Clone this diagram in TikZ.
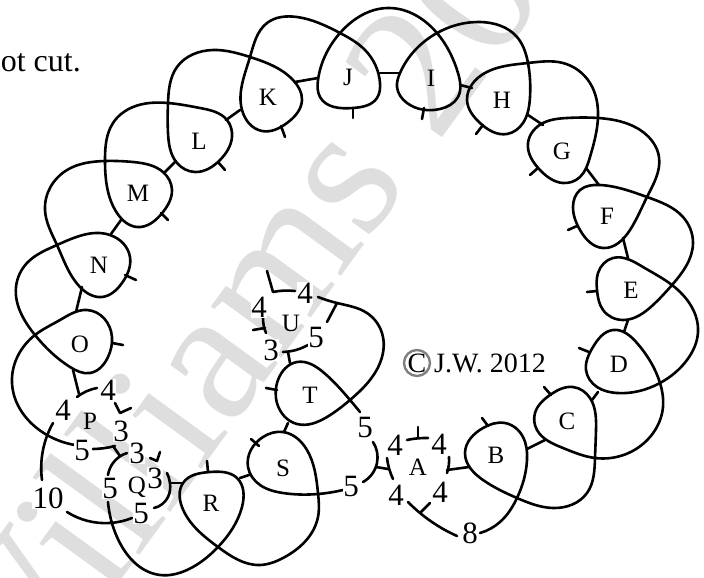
\documentclass[tikz,border=0pt]{standalone}
\usepackage{fontspec}
\usetikzlibrary{hobby}
\setmainfont{Liberation Serif}
\tikzset{
  strand/.style={line width=2.6pt,line cap=round,line join=round},
  letter/.style={font=\fontsize{25}{25}\selectfont,inner sep=0pt},
  num/.style={font=\fontsize{31}{31}\selectfont,inner sep=0.5pt,fill=white},
}
\begin{document}
\begin{tikzpicture}[x=1pt,y=-1pt,use Hobby shortcut]
\useasboundingbox (0,0) rectangle (704,578);
\begin{scope}
\clip (0,0) rectangle (704,578);
\node[rotate=54,anchor=base west,inner sep=0pt,text=black!13,font=\fontsize{190}{190}\selectfont] (wm) at (5,740) {Williams 20};
\end{scope}
\node[anchor=base east,inner sep=0pt,font=\fontsize{32}{32}\selectfont] (cut) at (81,72) {ot cut.};
% long strand
\draw[strand] (75,445)..(47,435)..(12,383)..(35,335)..(60,320)..(87,310)..(112,337)..(108,357)..(90,373)..(70,367)..(35,335)..(16,287)..(27,263)..(57,245)
..(110,235)..(130,257)..(122,283)..(102,297)..(80,287)..(57,245)..(45,210)..(67,170)..(105,161)..(133,162)..(163,172)..(172,190)..(163,212)..(137,227)..(117,213)..(105,160)
..(113,123)..(133,107)..(168,103)..(200,108)..(227,120)..(232,137)..(220,160)..(195,172)..(177,163)..(168,133)..(168,103)..(177,67)..(213,50)..(250,57)..(293,80)..(302,100)..(287,123)..(262,131)..(242,110)..(250,57)
..(267,23)..(297,17)..(340,33)..(365,50)..(380,83)..(377,98)..(353,108)..(320,97)..(318,80)..(340,33)..(388,8)..(437,33)..(458,73)..(458,97)..(440,109)..(407,103)..(397,87)..(400,73)..(437,33)
..(480,22)..(517,37)..(528,63)..(530,97)..(523,123)..(507,134)..(480,123)..(467,100)..(473,83)..(497,68)..(528,63)..(563,63)..(590,83)..(598,117)..(590,157)..(580,177)..(563,183)..(540,170)..(528,143)..(543,123)..(567,118)..(598,118)
..(643,132)..(659,157)..(647,197)..(630,230)..(603,248)..(580,230)..(573,207)..(580,190)..(600,185)..(647,197)..(683,217)..(693,243)..(672,285)..(653,305)..(623,320)..(603,310)..(597,290)..(598,273)..(613,258)..(643,267)..(672,285)
..(698,332)..(687,360)..(660,383)..(617,393)..(597,387)..(586,370)..(593,347)..(613,330)..(637,343)..(660,383)..(663,407)..(650,437)..(595,458)..(563,448)..(537,430)..(535,413)..(550,395)..(573,387)..(590,398)..(596,430)..(595,458)
..(587,493)..(553,508)..(517,498)..(483,480)..(465,453)..(483,428)..(505,423)..(523,437)..(527,460)..(517,498)..(500,522)..(480,533);
% 8 left to A
\draw[strand] (457,536)..(420,513)..(408,502);
% 10 strand
\draw[strand] (53,423)..(43,450)..(42,480);
\draw[strand] (67,512)..(110,523)..(132,518);
% Q-5 through R, S
\draw[strand] (108,502)..(117,537)..(160,575)..(187,570)..(218,547)..(242,507)..(237,478)..(210,472)..(183,483)..(182,507)..(218,547)..(260,565)..(283,558)..(318,517)..(318,493)..(307,450)..(283,432)..(263,437)..(248,467)..(260,485)..(283,493)..(318,494)..(343,490);
% T, U strand
\draw[strand] (360,412)..(350,400)..(323,372)..(297,362)..(278,380)..(277,403)..(297,424)..(327,417)..(350,400)..(380,363)..(383,337)..(367,313)..(337,303)..(318,297);
% arcs
\draw[strand] (337,303)--(327,322);
\draw[strand] (295,291) to[bend right=8] (273,292) -- (267,271);
\draw[strand] (263,318) to[bend right=10] (266,333);
\draw[strand] (253,330)--(265,328);
\draw[strand] (283,352) to[bend right=12] (308,345);
\draw[strand] (288,352)--(290,363);
% A
\draw[strand] (407,440) to[bend left=6] (428,438);
\draw[strand] (418,427)--(418,438);
\draw[strand] (449,457) to[bend left=10] (447,473);
\draw[strand] (447,470)--(469,467);
\draw[strand] (430,503)--(420,513);
\draw[strand] (387,458) to[bend right=8] (393,479);
\draw[strand] (376,467)--(388,469);
\draw[strand] (373,442)..(377,463)..(363,482);
% P, Q
\draw[strand] (77,397) to[bend left=12] (97,388);
\draw[strand] (73,370)--(79,394);
\draw[strand] (115,403) -- (120,413) -- (131,408);
\draw[strand] (93,449) to[bend right=6] (115,446);
\draw[strand] (113,446)--(120,456);
\draw[strand] (127,453)..(113,463)..(108,475);
\draw[strand] (150,458)--(157,461)--(160,452);
\draw[strand] (167,473)..(170,483)..(168,497)..(154,508);
\draw[strand] (170,483)--(183,483);
% ticks
\draw[strand] (125,275)--(136,280);
\draw[strand] (161,213)--(168,220);
\draw[strand] (218,162)--(225,170);
\draw[strand] (281,126)--(285,137);
\draw[strand] (353,108)--(353,118);
\draw[strand] (424,108)--(422,119);
\draw[strand] (483,125)--(476,134);
\draw[strand] (538,168)--(530,175);
\draw[strand] (577,226)--(568,230);
\draw[strand] (597,291)--(587,292);
\draw[strand] (589,352)--(579,348);
\draw[strand] (551,395)--(544,387);
\draw[strand] (488,426)--(482,418);
\draw[strand] (112,343)--(123,345);
\draw[strand] (277,390)--(266,388);
\draw[strand] (259,446)--(251,439);
\draw[strand] (208,472)--(207,461);
% connectors
\draw[strand] (82,287)--(76,312);
\draw[strand] (121,220)--(111,234);
\draw[strand] (176,161)--(164,173);
\draw[strand] (240,110)--(226,120);
\draw[strand] (318,78)--(295,82);
\draw[strand] (400,73)--(379,73);
\draw[strand] (460,85)--(472,88);
\draw[strand] (528,115)--(543,125);
\draw[strand] (586,168)--(599,185);
\draw[strand] (623,238)--(628,258);
\draw[strand] (628,320)--(624,332);
\draw[strand] (592,400)--(598,392);
\draw[strand] (527,449)--(545,440);
\draw[strand] (240,478)--(249,475);
\draw[strand] (284,432)--(288,423);
% letters
\foreach \n/\x/\y in {A/418/467,B/496/455,C/567/421,D/619/364,E/631/290,F/607/216,G/562/151,H/502/100,I/431/78,J/348/77,K/268/97,L/199/141,M/138/193,N/99/265,O/80/344,P/90/421,Q/137/487,R/211/503,S/283/468,T/310/395,U/291/323}
  \node[letter] (\n) at (\x,\y) {\n};
% numbers
\node[num] (p1) at (108,390) {4};
\node[num] (p2) at (63,410) {4};
\node[num] (p3) at (121,431) {3};
\node[num] (p4) at (82,450) {5};
\node[num] (q1) at (137,453) {3};
\node[num] (q2) at (110,488) {5};
\node[num] (q3) at (155,478) {3};
\node[num] (q4) at (141,513) {5};
\node[num] (ten) at (48,498) {10};
\node[num] (u1) at (305,293) {4};
\node[num] (u2) at (259,307) {4};
\node[num] (u3) at (271,350) {3};
\node[num] (u4) at (316,337) {5};
\node[num] (a1) at (395,445) {4};
\node[num] (a2) at (439,444) {4};
\node[num] (a3) at (396,495) {4};
\node[num] (a4) at (440,492) {4};
\node[num] (f1) at (365,427) {5};
\node[num] (f2) at (351,486) {5};
\node[num] (e8) at (470,533) {8};
% copyright
\node[draw=black!50,line width=2.4pt,circle,minimum size=26pt,inner sep=0pt] (cc) at (417,363) {};
\node[inner sep=0pt,font=\fontsize{28}{28}\selectfont] (cl) at (417,363) {C};
\node[anchor=base west,inner sep=0pt,font=\fontsize{28}{28}\selectfont] (jw) at (434,372) {J.W. 2012};
\end{tikzpicture}
\end{document}
